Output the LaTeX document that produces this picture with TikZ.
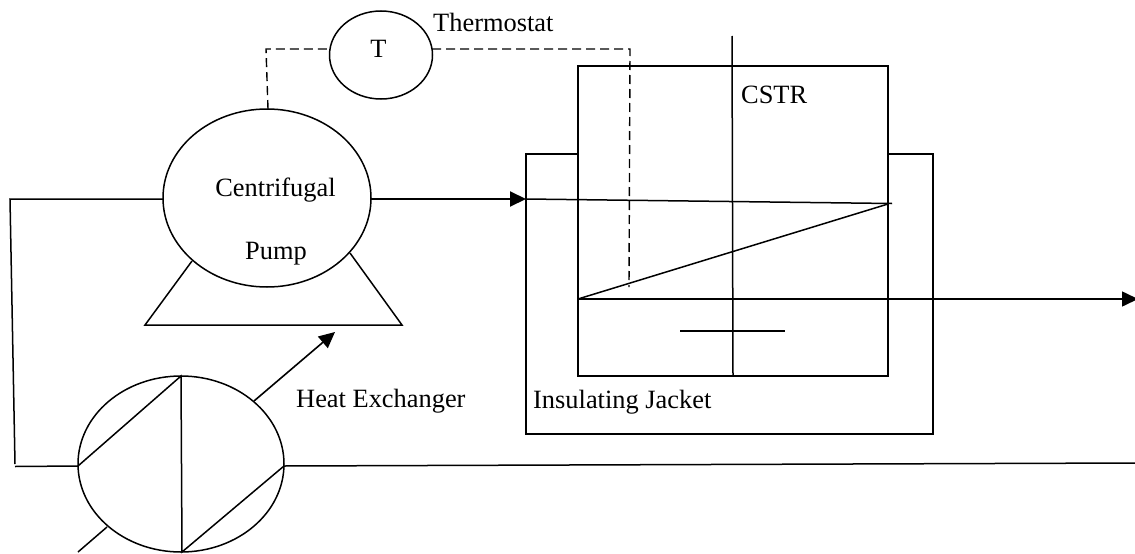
\documentclass[tikz,border=0pt]{standalone}
\usepackage{fontspec}
\setmainfont{Liberation Serif}
\usetikzlibrary{arrows.meta, shapes.geometric}
\tikzset{
	vessel/.style={draw, line width=1.5pt, ellipse, inner sep=0pt},
	pipe/.style={line width=1.5pt},
	flow/.style={line width=1.6pt, -{Triangle[length=16pt, width=15pt]}},
	signal/.style={line width=1.4pt, dash pattern=on 9pt off 5pt},
	tag/.style={font=\fontsize{26.4pt}{28pt}\selectfont, inner sep=0pt}
}
\begin{document}
\begin{tikzpicture}[x=1pt, y=-1pt]
	\useasboundingbox (0,0) rectangle (1135,554);
	% Thermostat
	\node [vessel, minimum width=103pt, minimum height=88pt] (thermo) at (381,55) {};
	\node [tag, anchor=base] (thermoT) at (378.5,57) {T};
	\node [tag, anchor=base west] (thermoLabel) at (433,31) {Thermostat};
	% Pump and its base
	\node [vessel, minimum width=208pt, minimum height=178pt] (pump) at (267,198) {};
	\node [tag, anchor=base] (pumpTop) at (275.5,196) {Centrifugal};
	\node [tag, anchor=base] (pumpBottom) at (276,259) {Pump};
	\coordinate (baseL) at (145,325);
	\coordinate (baseR) at (402,325);
	\draw [pipe] (192,261) -- (baseL) -- (baseR) -- (350,253);
	% Signal lines
	\coordinate (sigA) at (266,49);
	\coordinate (sigB) at (630,49);
	\coordinate (sigC) at (629,287);
	\draw [signal] (268,109) -- (sigA) -- (329,49);
	\draw [signal] (432,49) -- (sigB) -- (sigC);
	% Reactor and jacket
	\coordinate (cstrTL) at (578,66);
	\coordinate (cstrBR) at (888,376);
	\draw [pipe] (cstrTL) rectangle (cstrBR);
	\coordinate (jacketTL) at (526,154);
	\coordinate (jacketBR) at (933,434);
	\draw [pipe] (578,154) -- (jacketTL) -- (jacketTL |- jacketBR) -- (jacketBR) -- (jacketBR |- jacketTL) -- (888,154);
	\node [tag, anchor=base west] (cstrLabel) at (741,103) {CSTR};
	\node [tag, anchor=base west] (jacketLabel) at (533,408) {Insulating Jacket};
	% Shaft and impeller
	\coordinate (shaftT) at (732,36);
	\coordinate (shaftB) at (733,376);
	\draw [pipe] (shaftT) -- (shaftB);
	\coordinate (impL) at (680,331);
	\coordinate (impR) at (785,331);
	\draw [pipe] (impL) -- (impR);
	% Coil and outlet
	\coordinate (coilIn) at (526,199);
	\coordinate (coilR) at (892,203.5);
	\coordinate (coilL) at (578,299);
	\coordinate (outlet) at (1138,299);
	\draw [flow, line width=2pt] (371,199) -- (coilIn);
	\draw [pipe] (coilIn) -- (coilR);
	\draw [pipe] (888,204) -- (coilL);
	\draw [flow] (coilL) -- (outlet);
	% Heat exchanger
	\node [vessel, minimum width=206pt, minimum height=176pt] (exch) at (181,464) {};
	\coordinate (exchW) at (78,466);
	\coordinate (exchE) at (284,466);
	\coordinate (exchT) at (181,376);
	\coordinate (exchB) at (182,552);
	\draw [pipe] (exchW) -- (exchT) -- (exchB) -- (exchE);
	\node [tag, anchor=base west] (exchLabel) at (296,407) {Heat Exchanger};
	\coordinate (coolOut) at (335,332);
	\coordinate (coolIn) at (78,552);
	\draw [flow] (254,401) -- (coolOut);
	\draw [pipe] (107,527) -- (coolIn);
	% Recycle
	\coordinate (recA) at (10,199);
	\coordinate (recB) at (15,464);
	\coordinate (recC) at (15,466.5);
	\coordinate (drain) at (1135,463);
	\draw [pipe] (163,199) -- (recA) -- (recB);
	\draw [pipe] (recC) -- (exchW);
	\draw [pipe] (exchE) -- (drain);
\end{tikzpicture}
\end{document}
